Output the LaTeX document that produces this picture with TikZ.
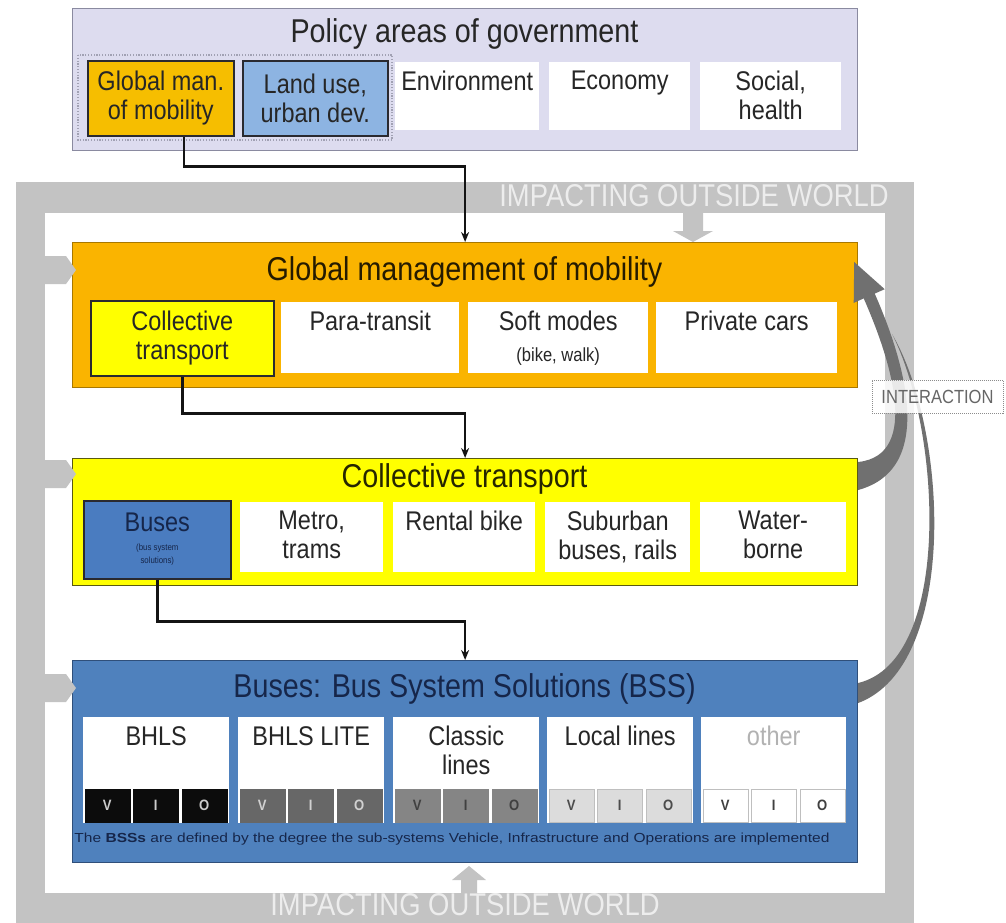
\documentclass[tikz,border=0pt]{standalone}
\usepackage{fontspec}
\usepackage{graphicx}
\setmainfont{Liberation Sans}[FakeStretch=0.87]
\usetikzlibrary{arrows.meta,calc}
\definecolor{lav}{HTML}{DDDCEF}
\definecolor{lavb}{HTML}{8A8AA0}
\definecolor{gold}{HTML}{F6BE00}
\definecolor{landblue}{HTML}{8DB4E2}
\definecolor{orangeP}{HTML}{FAB400}
\definecolor{orangeB}{HTML}{A87800}
\definecolor{yelP}{HTML}{FFFF00}
\definecolor{yelB}{HTML}{5A5A10}
\definecolor{bssP}{HTML}{4F81BD}
\definecolor{bssB}{HTML}{2F4F7A}
\definecolor{busP}{HTML}{4A7CC0}
\definecolor{darkB}{HTML}{2A2A30}
\definecolor{band}{HTML}{C3C3C3}
\definecolor{bandtxt}{HTML}{EDEDED}
\definecolor{arcgray}{HTML}{707070}
\definecolor{txt}{HTML}{262626}
\definecolor{navy}{HTML}{16264A}
\definecolor{vioA}{HTML}{0C0C0C}
\definecolor{vioB}{HTML}{676767}
\definecolor{vioC}{HTML}{858585}
\definecolor{vioD}{HTML}{DCDCDC}
\definecolor{vioE}{HTML}{FFFFFF}
\newcommand\mytitlefont{\fontsize{33}{36}\selectfont}
\newcommand\mysubfont{\fontsize{27}{29}\selectfont}
\newcommand\mybandfont{\fontsize{31.5}{33}\selectfont}
\tikzset{
  sz/.style 2 args={minimum width=#1pt, minimum height=#2pt},
  panel/.style={draw, line width=1.2pt, anchor=north west, inner sep=0pt},
  cellbox/.style={line width=1.6pt, anchor=north west, inner sep=0pt, align=center, font=\mysubfont, text=txt},
  wcell/.style={fill=white, anchor=north west, inner sep=0pt},
  toptext/.style={label={[anchor=north, inner sep=0pt, yshift=-9pt, align=center, font=\mysubfont, text=txt]north:{#1}}},
  ptitle/.style={font=\mytitlefont, inner sep=0pt},
  bandtext/.style={font=\mybandfont, text=bandtxt, inner sep=0pt},
  conn/.style={line width=2.6pt, draw=black!92, -{Stealth[length=10pt,width=8pt]}},
  vio/.style={inner sep=0pt, minimum width=45pt, minimum height=33pt, font=\fontsize{15}{15}\selectfont\bfseries},
  sidearrow/.style={fill=band},
}
\begin{document}
\begin{tikzpicture}[x=1pt,y=-1pt]
\useasboundingbox (0,0) rectangle (1006,923);
% outside world frame
\fill[band] (16,182) rectangle (914,923);
\fill[white] (45,213) rectangle (885,893);
\node[bandtext] (bandtop) at (694,196) {IMPACTING OUTSIDE WORLD};
\node[bandtext] (bandbot) at (465,905) {IMPACTING OUTSIDE WORLD};
% small block arrows from the frame
\fill[band] (683,213) -- (703,213) -- (703,231) -- (713,231) -- (693,242) -- (673,231) -- (683,231) -- cycle;
\fill[band] (461,893) -- (477,893) -- (477,880) -- (486,880) -- (469,866) -- (452,880) -- (461,880) -- cycle;

% policy areas
\node[panel, fill=lav, draw=lavb, sz={785}{142}] (pol) at (72,8) {};
\node[ptitle, text=txt] (polT) at (464.5,34) {Policy areas of government};
\draw[draw=lavb!80, line width=2pt, dash pattern=on 1.2pt off 1.6pt] (78,55) rectangle (392,140);
\node[cellbox, fill=gold, draw=darkB, sz={146}{75}] (glob) at (87,60) {Global man.\\of mobility};
\node[cellbox, fill=landblue, draw=darkB, sz={145}{75}] (land) at (242,60) {Land use,\\urban dev.};
\node[wcell, sz={144}{68}, toptext={Environment}] (env) at (395,62) {};
\node[wcell, sz={141}{68}, toptext={Economy}] (eco) at (549,62) {};
\node[wcell, sz={141}{68}, toptext={Social,\\health}] (soc) at (700,62) {};

% global management of mobility
\node[panel, fill=orangeP, draw=orangeB, sz={785}{145}] (gm) at (72,242) {};
\node[ptitle, text=black!85!orangeP] (gmT) at (464.5,272) {Global management of mobility};
\node[cellbox, fill=yelP, draw=darkB, sz={183}{75}] (ct) at (90,300) {Collective\\transport};
\node[wcell, sz={178}{71}, toptext={Para-transit}] (para) at (281,302) {};
\node[wcell, sz={180}{71}, toptext={Soft modes\\[2pt]\fontsize{19}{22}\selectfont(bike, walk)}] (soft) at (468,302) {};
\node[wcell, sz={181}{71}, toptext={Private cars}] (priv) at (656,302) {};

% collective transport
\node[panel, fill=yelP, draw=yelB, sz={785}{127}] (yel) at (72,458) {};
\node[ptitle, text=black!85!yelP] (yelT) at (464.5,479) {Collective transport};
\node[cellbox, fill=busP, draw=darkB, sz={147}{78}, text=navy] (bus) at (83,500) {Buses\\[-4pt]{\fontsize{9}{13}\selectfont\begin{tabular}{@{}c@{}}(bus system\\solutions)\end{tabular}}};
\node[wcell, sz={143}{70}, toptext={Metro,\\trams}] (metro) at (240,502) {};
\node[wcell, sz={142}{70}, toptext={Rental bike}] (rent) at (393,502) {};
\node[wcell, sz={145}{70}, toptext={Suburban\\buses, rails}] (subu) at (545,502) {};
\node[wcell, sz={146}{70}, toptext={Water-\\borne}] (water) at (700,502) {};

% bus system solutions
\node[panel, fill=bssP, draw=bssB, sz={785}{202}] (bss) at (72,660) {};
\node[ptitle, text=navy] (bssT) at (464.5,689) {Buses: Bus System Solutions (BSS)};
\node[wcell, sz={146}{106}, toptext={BHLS}] (bhls) at (83,717) {};
\node[wcell, sz={146}{106}, toptext={BHLS LITE}] (lite) at (238,717) {};
\node[wcell, sz={146}{106}, toptext={Classic\\lines}] (classic) at (393,717) {};
\node[wcell, sz={146}{106}, toptext={Local lines}] (local) at (547,717) {};
\node[wcell, sz={145}{106}, label={[anchor=north, inner sep=0pt, yshift=-9pt, font=\mysubfont, text=black!30]north:other}] (other) at (701,717) {};
\foreach \cx/\cf/\ct/\cd [count=\n] in {83/vioA/black!20/vioA, 238/vioB/black!18/vioB, 393/vioC/black!75/vioC, 547/vioD/black!70/black!25, 701/vioE/black!75/black!25} {
  \foreach \L [count=\k] in {V,I,O} {
    \node[vio, fill=\cf, draw=\cd, line width=0.6pt, text=\ct, anchor=north west] (vio\n\L) at (\cx+1.5+48.5*\k-48.5, 789) {\L};
  }
}
\node[inner sep=0pt, text=navy] (foot) at (452,839) {\resizebox{755pt}{9.5pt}{The \textbf{BSSs} are defined by the degree the sub-systems Vehicle, Infrastructure and Operations are implemented}};

% side arrows from the frame
\foreach \yy in {270,474,688} {
  \fill[sidearrow] (45,\yy-14) -- (66,\yy-14) -- (76,\yy) -- (66,\yy+14) -- (45,\yy+14) -- cycle;
}

% hierarchy connectors
\draw[conn] ([xshift=23pt]glob.south) -- ++(0,30) -| (gm.north);
\draw[conn] (ct.south) -- ++(0,37) -| (yel.north);
\draw[conn] (bus.south) -- ++(0,42) -| (bss.north);

% interaction arcs
\coordinate (ithin) at (892,334);
\fill[arcgray] ($(bss.north east)+(0,43)$) .. controls +(101,-38) and +(56,95) .. (ithin)
   .. controls +(49,95) and +(95,-23) .. ($(bss.north east)+(0,23)$) -- cycle;
% thick tapered arc from collective transport to global management, with its head
\fill[arcgray] ($(yel.north east)+(0,32)$) .. controls +(80,-22) and +(28.2,64) .. ($(gm.north east)+(16.5,51.6)$)
   -- ($(gm.north east)+(26.5,47.2)$) -- ($(gm.north east)+(-4,20)$) -- ($(gm.north east)+(-4.5,60.9)$)
   -- ($(gm.north east)+(5.5,56.4)$) .. controls +(24.2,54.8) and +(65,-7) .. ($(yel.north east)+(0,4)$) -- cycle;
\node[draw=black!45, dash pattern=on 1pt off 1pt, line width=0.9pt, fill=white, fill opacity=0.85, text opacity=1, text=black!60, font=\fontsize{19}{19}\selectfont, inner sep=0pt, minimum width=131pt, minimum height=33pt] (inter) at (937.5,396.5) {INTERACTION};
\end{tikzpicture}
\end{document}
